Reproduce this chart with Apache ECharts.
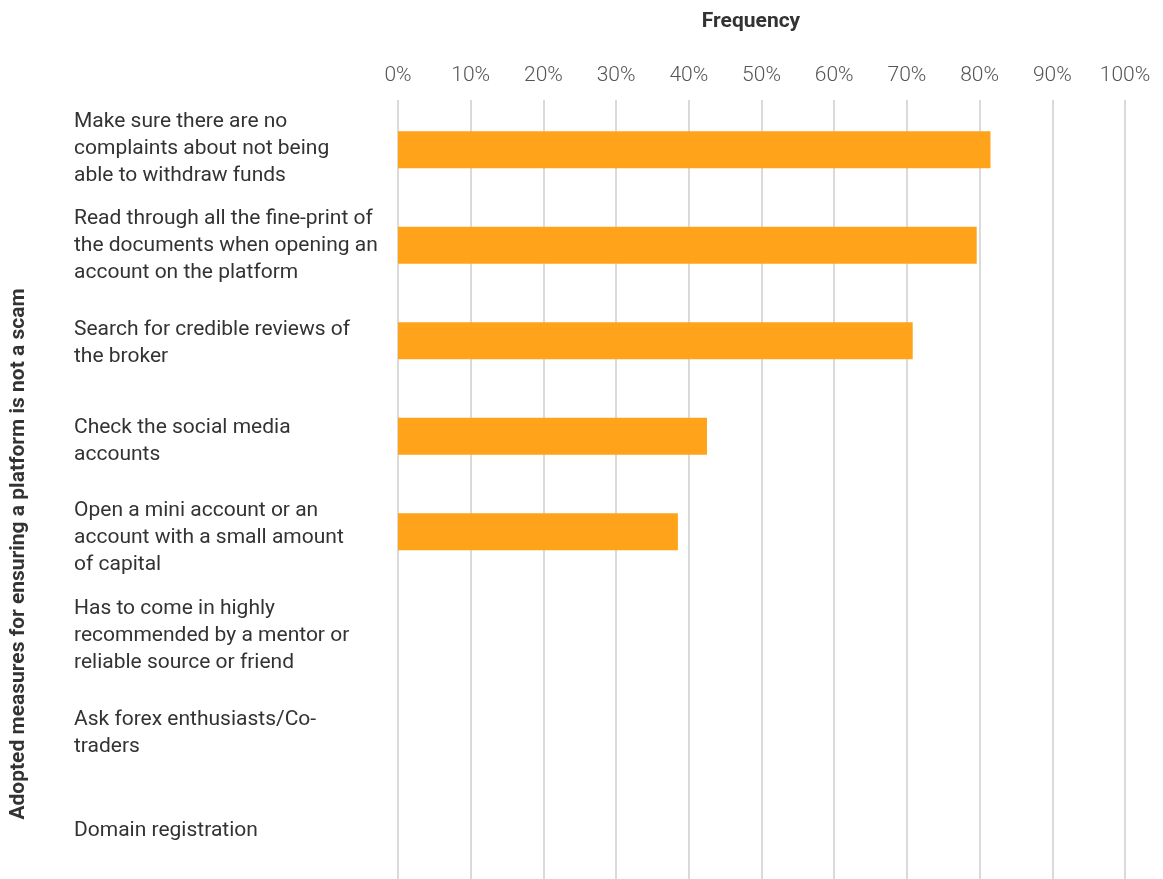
<!DOCTYPE html>
<html>
<head>
<meta charset="utf-8">
<script src="https://cdn.jsdelivr.net/npm/echarts@6/dist/echarts.min.js"></script>
<style>
  html, body { margin: 0; padding: 0; background: #ffffff; }
  #chart { width: 1163px; height: 879px; }
</style>
</head>
<body>
<div id="chart"></div>
<script>
// Survey answers: measures taken to make sure a trading platform is not a scam
const categories = [
  'Make sure there are no\ncomplaints about not being\nable to withdraw funds',
  'Read through all the fine-print of\nthe documents when opening an\naccount on the platform',
  'Search for credible reviews of\nthe broker',
  'Check the social media\naccounts',
  'Open a mini account or an\naccount with a small amount\nof capital',
  'Has to come in highly\nrecommended by a mentor or\nreliable source or friend',
  'Ask forex enthusiasts/Co-\ntraders',
  'Domain registration'
];

// Share of respondents (%)
const frequency = [81.5, 79.6, 70.8, 42.5, 38.5, 0, 0, 0];

// Frequency axis ticks (%)
const tickMin = 0;
const tickMax = 100;
const tickStep = 10;

const xTitle = 'Frequency';
const yTitle = 'Adopted measures for ensuring a platform is not a scam';

const FONT = 'Roboto, "Noto Sans", sans-serif';
const BAR_COLOR = '#FFA31A';
const GRID_LEFT = 398;
const GRID_RIGHT = 38;

const chart = echarts.init(document.getElementById('chart'), null, { renderer: 'canvas' });

chart.setOption({
  backgroundColor: '#ffffff',
  animation: false,
  textStyle: { fontFamily: FONT },
  grid: [
    // bars
    { left: GRID_LEFT, right: GRID_RIGHT, top: 102, height: 764, containLabel: false },
    // gridlines and category labels, running down to the page edge
    { left: GRID_LEFT, right: GRID_RIGHT, top: 100, bottom: 0, containLabel: false }
  ],
  xAxis: [
    {
      gridIndex: 0,
      type: 'value',
      position: 'top',
      min: tickMin,
      max: tickMax,
      interval: tickStep,
      axisLine: { show: false },
      axisTick: { show: false },
      splitLine: { show: false },
      axisLabel: {
        formatter: '{value}%',
        fontFamily: FONT,
        fontSize: 21,
        fontWeight: 300,
        color: '#555555',
        margin: 16
      }
    },
    {
      gridIndex: 1,
      type: 'value',
      position: 'top',
      min: tickMin,
      max: tickMax,
      interval: tickStep,
      axisLine: { show: false },
      axisTick: { show: false },
      axisLabel: { show: false },
      splitLine: { show: true, lineStyle: { color: '#dadada', width: 2 } }
    }
  ],
  yAxis: [
    {
      gridIndex: 0,
      type: 'category',
      data: categories,
      inverse: true,
      axisLine: { show: false },
      axisTick: { show: false },
      axisLabel: { show: false }
    },
    {
      gridIndex: 1,
      type: 'category',
      data: categories,
      inverse: true,
      axisLine: { show: false },
      axisTick: { show: false },
      axisLabel: {
        show: true,
        align: 'left',
        margin: GRID_LEFT - 74,
        fontFamily: FONT,
        fontSize: 21,
        lineHeight: 27,
        color: '#333333'
      }
    }
  ],
  graphic: [
    {
      type: 'text',
      x: 751,
      y: 22,
      style: {
        text: xTitle,
        fontFamily: FONT,
        fontSize: 21,
        fontWeight: 'bold',
        fill: '#333333',
        align: 'center',
        verticalAlign: 'middle'
      }
    },
    {
      type: 'text',
      x: 19,
      y: 554,
      rotation: Math.PI / 2,
      style: {
        text: yTitle,
        fontFamily: FONT,
        fontSize: 21,
        fontWeight: 'bold',
        fill: '#333333',
        align: 'center',
        verticalAlign: 'middle'
      }
    }
  ],
  series: [
    {
      type: 'bar',
      xAxisIndex: 0,
      yAxisIndex: 0,
      data: frequency,
      barWidth: 37,
      itemStyle: { color: BAR_COLOR },
      silent: true
    }
  ]
});
</script>
</body>
</html>
